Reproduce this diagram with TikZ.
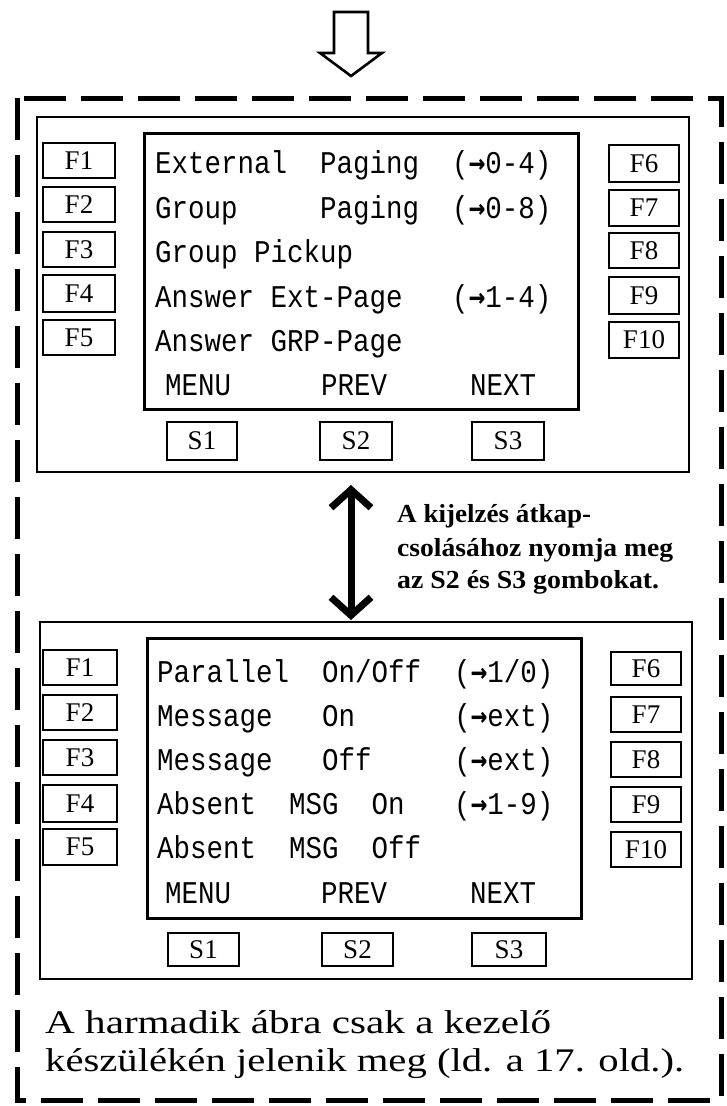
\documentclass[tikz,border=0pt]{standalone}
\usepackage{fontspec}
\setmainfont{Liberation Serif}
\newfontfamily\scrfont{Liberation Mono}
\newfontfamily\arrfont{DejaVu Sans Mono}
\usetikzlibrary{fit,arrows.meta}
\newcommand\kb[6]{\node[keyb, fit={(#2,#3) (#4,#5)}] (#1) {};
  \node[keylbl] (#1t) at (#1.center) {#6};}
\newcommand\ar{{\arrfont\bfseries →}}
\newcommand\sv[1]{\scalebox{1}[1.15]{#1}}
\begin{document}
\begin{tikzpicture}[x=1pt,y=-1pt,
  panel/.style={draw, line width=2.8pt, inner sep=0pt},
  screen/.style={draw, line width=3pt, inner sep=0pt},
  keyb/.style={draw, line width=2.8pt, inner sep=0pt},
  keylbl/.style={font=\fontsize{27}{27}\selectfont, inner sep=0pt},
  scrtxt/.style={font=\scrfont\fontsize{27.5}{28}\selectfont, anchor=base west, inner sep=0pt},
  midtxt/.style={font=\bfseries\fontsize{26}{27}\selectfont, anchor=base west, inner sep=0pt},
  captxt/.style={font=\fontsize{33}{34}\selectfont, anchor=base west, inner sep=0pt},
  frame/.style={draw, line width=5pt, dash pattern=on 42pt off 15pt},
  hollow/.style={draw, line width=2.6pt, line join=miter, fill=white},
  dblarrow/.style={line width=7pt, {Straight Barb[length=18pt,width=40pt]}-{Straight Barb[length=18pt,width=40pt]}}
]
\useasboundingbox (0,0) rectangle (726,1106);
% outer dashed frame
\draw[frame] (17,98) rectangle (721,1100);
% top hollow arrow
\draw[hollow] (334,12) -- (368,12) -- (368,53) -- (382,53) -- (351,76) -- (320,53) -- (334,53) -- cycle;

% ---------- top panel ----------
\node[panel, fit={(37,117) (689,472)}] (P1) {};
\node[screen, fit={(144,133) (578,409)}] (D1) {};
\kb{aF1}{43}{143}{115}{178}{F1}
\kb{aF2}{43}{187}{115}{222}{F2}
\kb{aF3}{43}{232}{115}{267}{F3}
\kb{aF4}{43}{275}{115}{312}{F4}
\kb{aF5}{43}{320}{115}{355}{F5}
\kb{aF6}{609}{145}{679}{182}{F6}
\kb{aF7}{609}{190}{679}{226}{F7}
\kb{aF8}{609}{233}{679}{268}{F8}
\kb{aF9}{609}{277}{679}{314}{F9}
\kb{aF10}{609}{322}{679}{358}{F10}
\kb{aS1}{167}{422}{237}{460}{S1}
\kb{aS2}{320}{422}{392}{460}{S2}
\kb{aS3}{472}{422}{544}{460}{S3}
\node[scrtxt] (at1) at (155,173) {\sv{External~~Paging~~(\ar0-4)}};
\node[scrtxt] (at2) at (155,218) {\sv{Group~~~~~Paging~~(\ar0-8)}};
\node[scrtxt] (at3) at (155,262) {\sv{Group~Pickup}};
\node[scrtxt] (at4) at (155,307) {\sv{Answer~Ext-Page~~~(\ar1-4)}};
\node[scrtxt] (at5) at (155,351) {\sv{Answer~GRP-Page}};
\node[scrtxt] (am1) at (165,395) {\sv{MENU}};
\node[scrtxt] (am2) at (321,395) {\sv{PREV}};
\node[scrtxt] (am3) at (470,395) {\sv{NEXT}};

% ---------- double arrow and note ----------
\coordinate (a1) at (351,485);
\coordinate (a2) at (351,620);
\draw[dblarrow] (a1) -- (a2);
\node[midtxt] (m1) at (397,522) {\resizebox{194pt}{\height}{A kijelzés átkap-}};
\node[midtxt] (m2) at (397,556) {\resizebox{276pt}{\height}{csolásához nyomja meg}};
\node[midtxt] (m3) at (397,588) {\resizebox{262pt}{\height}{az S2 és S3 gombokat.}};

% ---------- bottom panel ----------
\node[panel, fit={(40,622) (692,979)}] (P2) {};
\node[screen, fit={(147,638) (581,918)}] (D2) {};
\kb{bF1}{43}{650}{117}{685}{F1}
\kb{bF2}{43}{695}{117}{730}{F2}
\kb{bF3}{43}{740}{117}{775}{F3}
\kb{bF4}{43}{785}{117}{822}{F4}
\kb{bF5}{43}{829}{117}{865}{F5}
\kb{bF6}{611}{652}{681}{685}{F6}
\kb{bF7}{611}{697}{681}{732}{F7}
\kb{bF8}{611}{742}{681}{777}{F8}
\kb{bF9}{611}{787}{681}{822}{F9}
\kb{bF10}{611}{832}{681}{867}{F10}
\kb{bS1}{168}{933}{239}{966}{S1}
\kb{bS2}{322}{933}{393}{966}{S2}
\kb{bS3}{472}{933}{546}{966}{S3}
\node[scrtxt] (bt1) at (157,682) {\sv{Parallel~~On/Off~~(\ar1/0)}};
\node[scrtxt] (bt2) at (157,726) {\sv{Message~~~On~~~~~~(\ar ext)}};
\node[scrtxt] (bt3) at (157,770) {\sv{Message~~~Off~~~~~(\ar ext)}};
\node[scrtxt] (bt4) at (157,814) {\sv{Absent~~MSG~~On~~~(\ar1-9)}};
\node[scrtxt] (bt5) at (157,858) {\sv{Absent~~MSG~~Off}};
\node[scrtxt] (bm1) at (165,903) {\sv{MENU}};
\node[scrtxt] (bm2) at (321,903) {\sv{PREV}};
\node[scrtxt] (bm3) at (470,903) {\sv{NEXT}};

% ---------- caption ----------
\node[captxt] (c1) at (45,1033) {\resizebox{506pt}{\height}{A harmadik ábra csak a kezelő}};
\node[captxt] (c2) at (45,1071) {\resizebox{639pt}{\height}{készülékén jelenik meg (ld. a 17. old.).}};
\end{tikzpicture}
\end{document}
